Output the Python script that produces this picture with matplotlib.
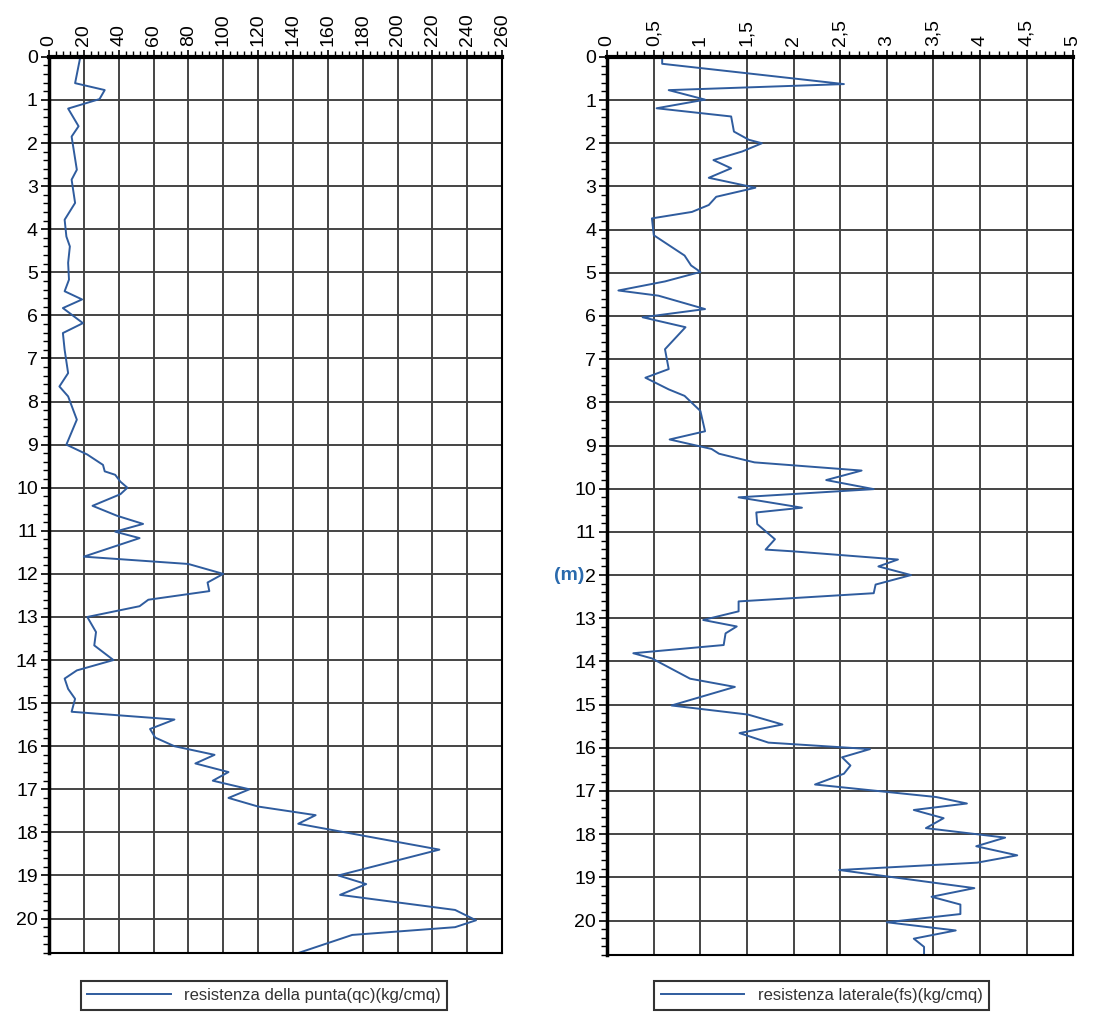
import numpy as np
import matplotlib
matplotlib.use("Agg")
import matplotlib.pyplot as plt
from matplotlib.ticker import MultipleLocator

plt.rcParams['font.family'] = ['Liberation Sans', 'DejaVu Sans']

# resistenza della punta qc (kg/cmq) vs depth (m)
qc_depth = [0.0, 0.61, 0.77, 0.98, 1.2, 1.61, 1.85, 2.62, 2.85, 3.39, 3.78, 4.17, 4.4, 4.78,
            5.17, 5.44, 5.63, 5.83, 6.18, 6.41, 6.8, 7.34, 7.65, 7.88, 8.42, 9.0,
            9.23, 9.47, 9.62, 9.7, 9.86, 10.0, 10.15, 10.42, 10.65, 10.84, 11.02, 11.17,
            11.6, 11.77, 12.0, 12.2, 12.4, 12.6, 12.75, 13.0, 13.35, 13.66, 14.0, 14.24,
            14.43, 14.67, 14.9, 15.2, 15.38, 15.6, 15.8, 16.0, 16.2, 16.4, 16.6, 16.8,
            17.0, 17.2, 17.4, 17.6, 17.8, 18.4, 19.0, 19.2, 19.45, 19.8, 20.04, 20.2,
            20.38, 20.8]
qc_vals = [18, 15, 32, 29, 11, 17, 13, 16, 13, 15, 9, 10, 12, 11,
           11.5, 9, 19, 8, 19.5, 8, 9, 11, 6, 11, 16, 10,
           22, 31, 32, 38, 41, 45, 41, 25, 39, 54, 38, 52,
           20, 80, 100, 91, 92, 57, 52, 22, 27, 26, 37, 16,
           9, 11, 15, 13, 72, 58, 61, 72, 95, 84, 103, 94,
           115, 103, 120, 153, 143, 224, 166, 182, 167, 233, 245, 233,
           174, 143]

# resistenza laterale fs (kg/cmq) vs depth (m)
fs_depth = [0.0, 0.16, 0.63, 0.77, 0.99, 1.19, 1.38, 1.73, 1.92, 2.0, 2.19, 2.39, 2.58, 2.8,
            3.03, 3.24, 3.43, 3.59, 3.74, 4.13, 4.6, 4.83, 4.98, 5.2, 5.41, 5.53, 5.84,
            6.03, 6.26, 6.77, 7.23, 7.43, 7.7, 7.85, 8.2, 8.67, 8.86, 9.08, 9.19, 9.39,
            9.58, 9.8, 10.01, 10.2, 10.44, 10.55, 10.82, 11.17, 11.41, 11.45, 11.64, 11.8,
            12.0, 12.22, 12.42, 12.61, 12.84, 13.04, 13.19, 13.35, 13.62, 13.81, 13.93,
            14.4, 14.59, 15.02, 15.23, 15.46, 15.66, 15.88, 16.03, 16.22, 16.41, 16.6,
            16.85, 17.14, 17.29, 17.44, 17.63, 17.86, 18.08, 18.28, 18.49, 18.66, 18.83,
            19.25, 19.45, 19.63, 19.85, 20.04, 20.23, 20.42, 20.61, 20.8]
fs_vals = [0.59, 0.59, 2.54, 0.66, 1.05, 0.53, 1.33, 1.36, 1.52, 1.66, 1.45, 1.14, 1.33, 1.09,
           1.59, 1.17, 1.09, 0.91, 0.48, 0.5, 0.83, 0.9, 1.0, 0.62, 0.12, 0.55, 1.05,
           0.38, 0.84, 0.62, 0.66, 0.41, 0.66, 0.83, 1.0, 1.05, 0.67, 1.12, 1.2, 1.58,
           2.73, 2.35, 2.86, 1.41, 2.09, 1.6, 1.61, 1.8, 1.7, 1.99, 3.12, 2.91,
           3.26, 2.88, 2.86, 1.41, 1.41, 1.03, 1.39, 1.27, 1.25, 0.28, 0.48,
           0.89, 1.37, 0.69, 1.51, 1.88, 1.42, 1.73, 2.82, 2.52, 2.61, 2.54,
           2.23, 3.53, 3.86, 3.29, 3.61, 3.42, 4.27, 3.96, 4.4, 3.97, 2.49,
           3.94, 3.48, 3.79, 3.79, 3.0, 3.74, 3.29, 3.4, 3.4]

depth_ticks = list(range(0, 21))
qc_ticks = list(range(0, 261, 20))
fs_ticks = [0, 0.5, 1, 1.5, 2, 2.5, 3, 3.5, 4, 4.5, 5]
fs_ticklabels = ['0', '0,5', '1', '1,5', '2', '2,5', '3', '3,5', '4', '4,5', '5']
fs_depthlabels = [str(d) for d in depth_ticks]
fs_depthlabels[12] = '2'

line_col = '#2f5c9e'
grid_col = '#444444'

fig = plt.figure(figsize=(11, 10.23), dpi=100)
ax1 = fig.add_axes([0.0445, 0.0684, 0.412, 0.876])
ax2 = fig.add_axes([0.552, 0.0664, 0.4236, 0.878])


def style_axis(ax, xmax, xmajor, xminor):
    ax.set_xlim(0, xmax)
    ax.set_ylim(20.8, 0)
    ax.xaxis.tick_top()
    ax.xaxis.set_major_locator(MultipleLocator(xmajor))
    ax.xaxis.set_minor_locator(MultipleLocator(xminor))
    ax.set_yticks(depth_ticks)
    ax.yaxis.set_minor_locator(MultipleLocator(0.2))
    ax.tick_params(axis='x', which='major', labelrotation=90, labelsize=14,
                   length=5, width=1.2, pad=3)
    ax.tick_params(axis='x', which='minor', length=4, width=1)
    ax.tick_params(axis='y', which='major', labelsize=14, length=6, width=1.2, pad=2)
    ax.tick_params(axis='y', which='minor', length=4, width=1)
    ax.grid(True, which='major', color=grid_col, linewidth=1.4)
    ax.set_axisbelow(True)
    ax.spines['top'].set_linewidth(3)
    ax.spines['left'].set_linewidth(2.5)
    ax.spines['right'].set_linewidth(1.5)
    ax.spines['bottom'].set_linewidth(1.5)


style_axis(ax1, 260, 20, 4)
style_axis(ax2, 5, 0.5, 0.1)
ax2.set_xticks(fs_ticks)
ax2.set_xticklabels(fs_ticklabels)
ax2.set_yticks(depth_ticks)
ax2.set_yticklabels(fs_depthlabels)

ax1.plot(qc_vals, qc_depth, color=line_col, linewidth=1.4,
         label='resistenza della punta(qc)(kg/cmq)')
ax2.plot(fs_vals, fs_depth, color=line_col, linewidth=1.4,
         label='resistenza laterale(fs)(kg/cmq)')

ax2.text(-0.05, 12, '(m)', transform=ax2.get_yaxis_transform(), color='#2a6aad',
         fontsize=14, fontweight='bold', ha='right', va='center')

for ax, anchor in [(ax1, (0.24, 0.005)), (ax2, (0.747, 0.005))]:
    leg = fig.legend(handles=ax.get_lines(), loc='lower center', bbox_to_anchor=anchor,
                     fontsize=12, frameon=True, fancybox=False, handlelength=5.0,
                     borderpad=0.4, labelcolor='#333333')
    leg.get_frame().set_edgecolor('black')
    leg.get_frame().set_linewidth(1.5)

fig.savefig('out.png', dpi=100)
